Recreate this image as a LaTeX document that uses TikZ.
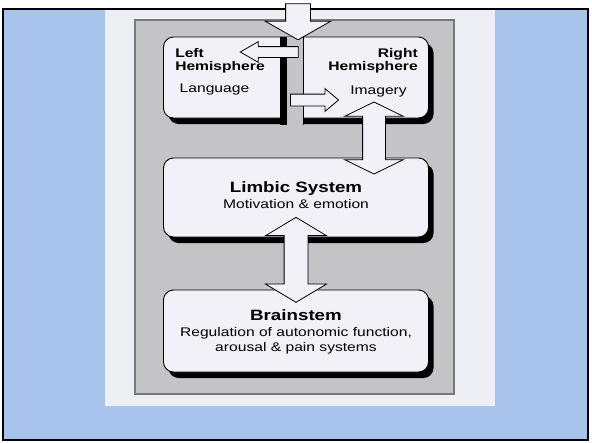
\documentclass[tikz,border=0pt]{standalone}
\usepackage{fontspec}
\setmainfont{Liberation Sans}
\usepackage{tikz}
\usetikzlibrary{shapes.arrows}
\usetikzlibrary{shadows}

\definecolor{bgblue}{RGB}{168,196,237}
\definecolor{panelwhite}{RGB}{238,239,244}
\definecolor{panelgray}{RGB}{196,196,199}
\definecolor{panelline}{RGB}{120,120,124}
\definecolor{boxfill}{RGB}{241,241,247}

\tikzset{
    box/.style={draw=black, line width=0.9pt, fill=boxfill, rounded corners=10pt,
        minimum width=265, drop shadow={shadow xshift=5pt, shadow yshift=-6pt, fill=black, opacity=1}},
    fatarrow/.style={draw=black, fill=boxfill, line width=0.8pt, inner xsep=0pt, minimum width=0pt},
    hd/.style={font=\bfseries\fontsize{15}{18}\selectfont, xscale=1.25, inner sep=0pt, anchor=base},
    hemi/.style={font=\bfseries\fontsize{12.5}{13}\selectfont, xscale=1.25, inner sep=0pt},
    txt/.style={font=\fontsize{12.5}{15}\selectfont, xscale=1.25, inner sep=0pt, anchor=base}}

\begin{document}
\begin{tikzpicture}[x=1pt, y=-1pt]

            \useasboundingbox (0,0) rectangle (592,442);
            \fill[white] (0,0) rectangle (592,442);
            \draw[line width=1.6pt, fill=bgblue] (3,9) rectangle (588,440);
            \fill[panelwhite] (105,9.8) rectangle (495,406);
            \draw[draw=panelline, line width=2.5pt, fill=panelgray] (135,20) rectangle (454,394);

            % the three levels
            \node[box, minimum height=81] (hemi) at (296,77.5) {};
            \node[box, minimum height=79] (limbic) at (296,197.5) {};
            \node[box, minimum height=82] (brain) at (296,331) {};

            % corpus callosum
            \fill[black] (280,37) rectangle (287,125);
            \fill[panelgray] (287,37) rectangle (303,125);
            \draw[line width=0.9pt] (303,37) -- (303,125);

            \node[hemi, anchor=base west] (lefthd) at (175,57.5) {Left};
            \node[hemi, anchor=base west] (lefthd2) at (175,70.5) {Hemisphere};
            \node[hemi, anchor=base east] (righthd) at (418,57.5) {Right};
            \node[hemi, anchor=base east] (righthd2) at (418,70.5) {Hemisphere};
            \node[txt] (language) at (214.5,92) {Language};
            \node[txt] (imagery) at (378.5,94) {Imagery};

            \node[hd] (limbictitle) at (296,192.5) {Limbic System};
            \node[txt] (limbictext) at (296,208.5) {Motivation \& emotion};

            \node[hd] (braintitle) at (296,320) {Brainstem};
            \node[txt] (braintext) at (296,336.5) {Regulation of autonomic function,};
            \node[txt] (braintext2) at (296,351) {arousal \& pain systems};

            % arrows
            \coordinate (feed) at (298,0);
            \path (feed) -- (feed |- hemi.north) node[midway, fatarrow, single arrow, rotate=-90,
                minimum height=36, inner ysep=12, single arrow head extend=20.5,
                single arrow tip angle=121] (inarrow) {};
            \node[fatarrow, single arrow, rotate=180, minimum height=58, inner ysep=5,
                single arrow head extend=5, single arrow tip angle=60] (tolanguage) at (274,52) {};
            \node[fatarrow, single arrow, minimum height=48, inner ysep=5.5,
                single arrow head extend=5.5, single arrow tip angle=80] (toimagery) at (311,100) {};
            \path ([xshift=78pt]hemi.south) -- ([xshift=78pt]limbic.north) node[midway, fatarrow,
                double arrow, rotate=90, minimum height=72, inner ysep=11,
                double arrow head extend=18, double arrow tip angle=128] (upperlink) {};
            \path (limbic.south) -- (brain.north) node[pos=0.43, fatarrow,
                double arrow, rotate=90, minimum height=85, inner ysep=11.5,
                double arrow head extend=18.5, double arrow tip angle=118] (lowerlink) {};

        \end{tikzpicture}
\end{document}
